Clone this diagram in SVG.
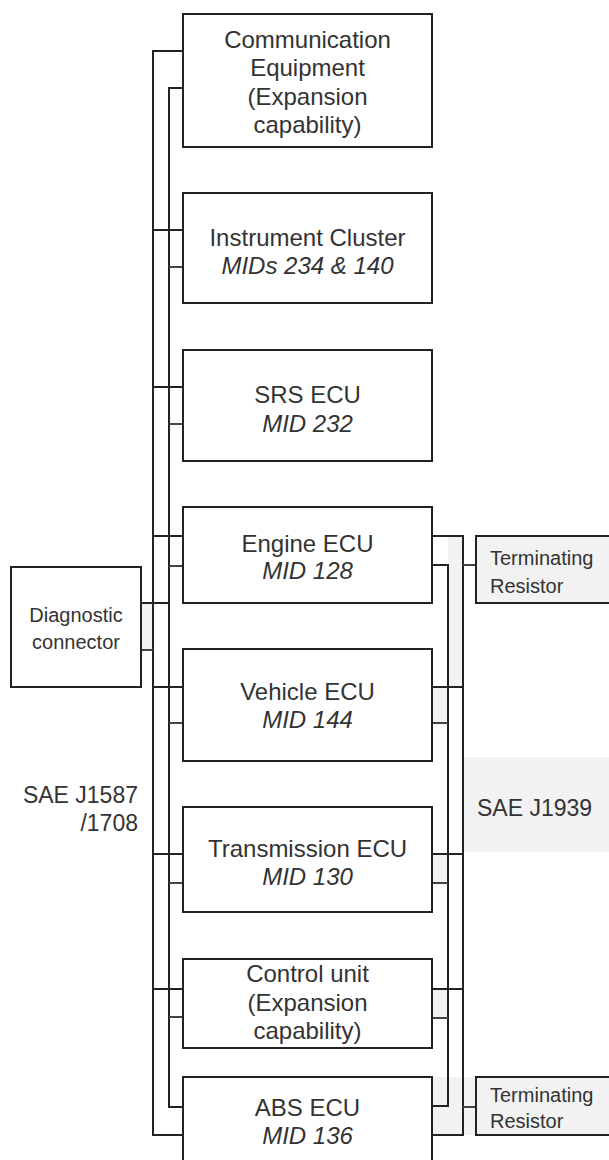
<svg xmlns="http://www.w3.org/2000/svg" width="609" height="1160" viewBox="0 0 609 1160">
<style>
.box{fill:#fff;stroke:#222;stroke-width:2}
.res{fill:#f2f2f2;stroke:#222;stroke-width:2}
.ln{fill:none;stroke:#222;stroke-width:2}
.tk{fill:none;stroke:#444;stroke-width:2}
.shade{fill:#f2f2f2;stroke:none}
text{font-family:"Liberation Sans",Arial,Helvetica,sans-serif;fill:#333}
.t{font-size:24px;text-anchor:middle}
.i{font-style:italic}
.s{font-size:20px}
.l{font-size:23px}
</style>
<rect width="609" height="1160" fill="#fff"/>
<g id="shading">
<rect class="shade" x="463" y="757" width="146" height="95"/>
<rect class="shade" x="448" y="537" width="15" height="150"/>
<rect class="shade" x="432" y="687" width="16" height="36"/>
<rect class="shade" x="432" y="854" width="16" height="29"/>
<rect class="shade" x="432" y="989" width="16" height="29"/>
<rect class="shade" x="432" y="1077" width="44" height="58"/>
<rect class="shade" x="141" y="603" width="12" height="47"/>
</g>
<g id="connectors">
<polyline class="ln" points="183,51 153,51 153,1135 183,1135"/>
<polyline class="ln" points="183,88 169,88 169,1107 183,1107"/>
<line class="ln" x1="153" y1="230" x2="183" y2="230"/>
<line class="ln" x1="153" y1="387" x2="183" y2="387"/>
<line class="ln" x1="153" y1="536" x2="183" y2="536"/>
<line class="ln" x1="153" y1="687" x2="183" y2="687"/>
<line class="ln" x1="153" y1="854" x2="183" y2="854"/>
<line class="ln" x1="153" y1="989" x2="183" y2="989"/>
<line class="tk" x1="169" y1="267" x2="183" y2="267"/>
<line class="tk" x1="169" y1="424" x2="183" y2="424"/>
<line class="tk" x1="169" y1="566" x2="183" y2="566"/>
<line class="tk" x1="169" y1="723" x2="183" y2="723"/>
<line class="tk" x1="169" y1="883" x2="183" y2="883"/>
<line class="tk" x1="169" y1="1017" x2="183" y2="1017"/>
<line class="ln" x1="141" y1="603" x2="169" y2="603"/>
<line class="tk" x1="141" y1="650" x2="153" y2="650"/>
<polyline class="ln" points="432,536 463,536 463,1135 432,1135"/>
<polyline class="ln" points="432,565 448,565 448,1106 432,1106"/>
<line class="ln" x1="432" y1="687" x2="463" y2="687"/>
<line class="ln" x1="432" y1="854" x2="463" y2="854"/>
<line class="ln" x1="432" y1="989" x2="463" y2="989"/>
<line class="tk" x1="432" y1="723" x2="448" y2="723"/>
<line class="tk" x1="432" y1="883" x2="448" y2="883"/>
<line class="tk" x1="432" y1="1018" x2="448" y2="1018"/>
<line class="tk" x1="463" y1="565" x2="476" y2="565"/>
<line class="tk" x1="463" y1="1107" x2="476" y2="1107"/>
</g>
<g id="comm">
<rect class="box" x="183" y="14" width="249" height="133"/>
<text class="t" x="307.5" y="47.5">Communication</text>
<text class="t" x="307.5" y="76">Equipment</text>
<text class="t" x="307.5" y="105">(Expansion</text>
<text class="t" x="307.5" y="133">capability)</text>
</g>
<g id="instrument">
<rect class="box" x="183" y="193" width="249" height="110"/>
<text class="t" x="307.5" y="245.5">Instrument Cluster</text>
<text class="t i" x="307.5" y="274">MIDs 234 &amp; 140</text>
</g>
<g id="srs">
<rect class="box" x="183" y="350" width="249" height="111"/>
<text class="t" x="307.5" y="403">SRS ECU</text>
<text class="t i" x="307.5" y="431.5">MID 232</text>
</g>
<g id="engine">
<rect class="box" x="183" y="507" width="249" height="96"/>
<text class="t" x="307.5" y="552">Engine ECU</text>
<text class="t i" x="307.5" y="579">MID 128</text>
</g>
<g id="vehicle">
<rect class="box" x="183" y="649" width="249" height="112"/>
<text class="t" x="307.5" y="700">Vehicle ECU</text>
<text class="t i" x="307.5" y="728">MID 144</text>
</g>
<g id="transmission">
<rect class="box" x="183" y="807" width="249" height="105"/>
<text class="t" x="307.5" y="857">Transmission ECU</text>
<text class="t i" x="307.5" y="885">MID 130</text>
</g>
<g id="control">
<rect class="box" x="183" y="959" width="249" height="89"/>
<text class="t" x="307.5" y="982">Control unit</text>
<text class="t" x="307.5" y="1010.5">(Expansion</text>
<text class="t" x="307.5" y="1039">capability)</text>
</g>
<g id="abs">
<path class="ln" d="M183,1170 V1077 H432 V1170"/>
<text class="t" x="307.5" y="1116">ABS ECU</text>
<text class="t i" x="307.5" y="1144">MID 136</text>
</g>
<g id="diagnostic">
<rect class="box" x="11" y="567" width="130" height="120"/>
<text class="s" x="76" y="622" text-anchor="middle">Diagnostic</text>
<text class="s" x="76" y="649" text-anchor="middle">connector</text>
</g>
<g id="resistor1">
<rect class="res" x="476" y="536" width="150" height="67"/>
<text class="s" x="490" y="565">Terminating</text>
<text class="s" x="490" y="593">Resistor</text>
</g>
<g id="resistor2">
<rect class="res" x="476" y="1077" width="150" height="58"/>
<text class="s" x="490" y="1102">Terminating</text>
<text class="s" x="490" y="1128">Resistor</text>
</g>
<g id="labels">
<text class="l" x="138" y="803" text-anchor="end">SAE J1587</text>
<text class="l" x="138" y="831" text-anchor="end">/1708</text>
<text class="l" x="477" y="816">SAE J1939</text>
</g>
</svg>
